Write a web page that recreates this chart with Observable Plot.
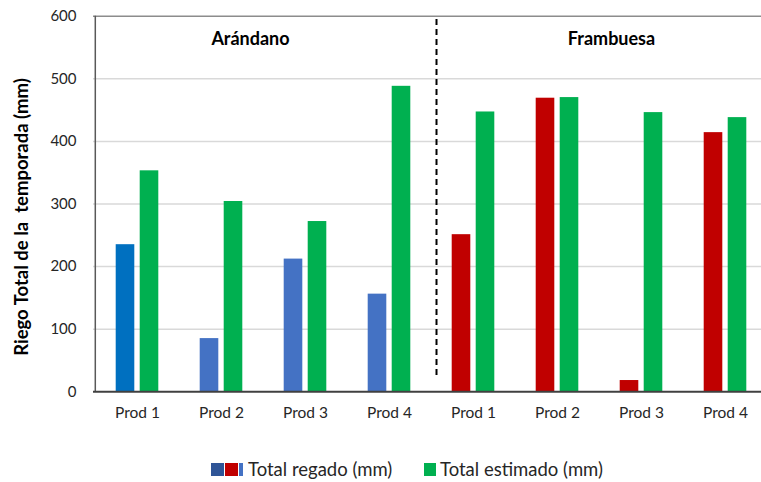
<!DOCTYPE html>
<html>
<head>
<meta charset="utf-8">
<script src="https://cdn.jsdelivr.net/npm/d3@7"></script>
<script src="https://cdn.jsdelivr.net/npm/@observablehq/plot@0.6"></script>
<style>
  html, body { margin: 0; padding: 0; background: #fff; }
  #wrap { position: relative; width: 761px; height: 482px; font-family: Lato, "Open Sans", sans-serif; }
  #legend { position: absolute; left: 0; top: 458px; width: 761px; height: 24px; font-size: 18.5px; color: #262626; }
  .sw { position: absolute; top: 5px; height: 13px; }
  .lt { position: absolute; top: 0; line-height: 22px; white-space: nowrap; }
</style>
</head>
<body>
<div id="wrap">
  <div id="chart"></div>
  <div id="legend">
    <span class="sw" style="left:211px;width:13px;background:#2F5597"></span>
    <span class="sw" style="left:225px;width:13px;background:#C00000"></span>
    <span class="sw" style="left:239px;width:4px;background:#4472C4"></span>
    <span class="lt" style="left:248px">Total regado (mm)</span>
    <span class="sw" style="left:424px;width:12px;background:#00B050"></span>
    <span class="lt" style="left:440px">Total estimado (mm)</span>
  </div>
</div>
<script>
// ---- data ----
const crops = ["Arándano", "Frambuesa"];
const products = ["Prod 1", "Prod 2", "Prod 3", "Prod 4"];
const regadoArandano = [235, 85, 212, 156];
const estimadoArandano = [353, 304, 272, 488];
const regadoFrambuesa = [251, 469, 18, 414];
const estimadoFrambuesa = [447, 470, 446, 438];
const yTicks = [0, 100, 200, 300, 400, 500, 600];
const yLabel = "Riego Total de la  temporada (mm)";

// ---- table ----
const rows = [];
products.forEach((p, i) => rows.push({crop: crops[0], product: p, i, key: crops[0] + "|" + p, regado: regadoArandano[i], estimado: estimadoArandano[i]}));
products.forEach((p, i) => rows.push({crop: crops[1], product: p, i, key: crops[1] + "|" + p, regado: regadoFrambuesa[i], estimado: estimadoFrambuesa[i]}));
const keys = rows.map(d => d.key);

// ---- styles ----
const colorRegado = d => d.crop === crops[1] ? "#C00000" : (d.i === 0 ? "#0070C0" : "#4472C4");
const colorEstimado = "#00B050";

const chart = Plot.plot({
  width: 761,
  height: 445,
  marginLeft: 93,
  marginRight: 0,
  marginTop: 15.7,
  marginBottom: 53.7,
  style: {fontFamily: "Lato, 'Open Sans', sans-serif", fontSize: "14px", color: "#262626", background: "white"},
  x: {type: "band", domain: keys, range: [93.3, 768.5], padding: 0},
  y: {domain: [0, 600], range: [391.3, 15.7]},
  marks: [
    Plot.ruleY(yTicks.filter(t => t > 0 && t < 600), {stroke: "#d9d9d9", strokeWidth: 1.5}),
    Plot.ruleY([600], {stroke: "#8c8c8c", strokeWidth: 1.5}),
    Plot.barY(rows, {x: "key", y: "regado", fill: colorRegado, insetLeft: 20.7, insetRight: 44.7}),
    Plot.barY(rows, {x: "key", y: "estimado", fill: colorEstimado, insetLeft: 44.7, insetRight: 20.7}),
    Plot.ruleX([keys[0]], {dx: -42.2, y1: 0, y2: 600, stroke: "#595959", strokeWidth: 1.5}),
    Plot.ruleY([0], {stroke: "#404040", strokeWidth: 2}),
    Plot.ruleX([keys[4]], {dx: -37, y1: 26, y2: 600, stroke: "#000", strokeWidth: 2, strokeDasharray: "6,4"}),
    Plot.text([crops[0]], {x: [keys[1]], y: [563], dx: 29, text: d => d, fontWeight: "bold", fontSize: 18, fill: "#000"}),
    Plot.text([crops[1]], {x: [keys[5]], y: [563], dx: 54, text: d => d, fontWeight: "bold", fontSize: 18, fill: "#000"}),
    Plot.axisY({ticks: yTicks, tickSize: 0, tickPadding: 17, label: null, fontSize: 15}),
    Plot.axisX({tickSize: 0, tickPadding: 15, label: null, tickFormat: k => k.split("|")[1], fontSize: 15.5}),
    Plot.text([yLabel], {frameAnchor: "left", textAnchor: "middle", dx: -71, dy: 13, rotate: -90, fontWeight: "bold", fontSize: 18.5, fill: "#000"})
  ]
});
document.getElementById("chart").appendChild(chart);
</script>
</body>
</html>
